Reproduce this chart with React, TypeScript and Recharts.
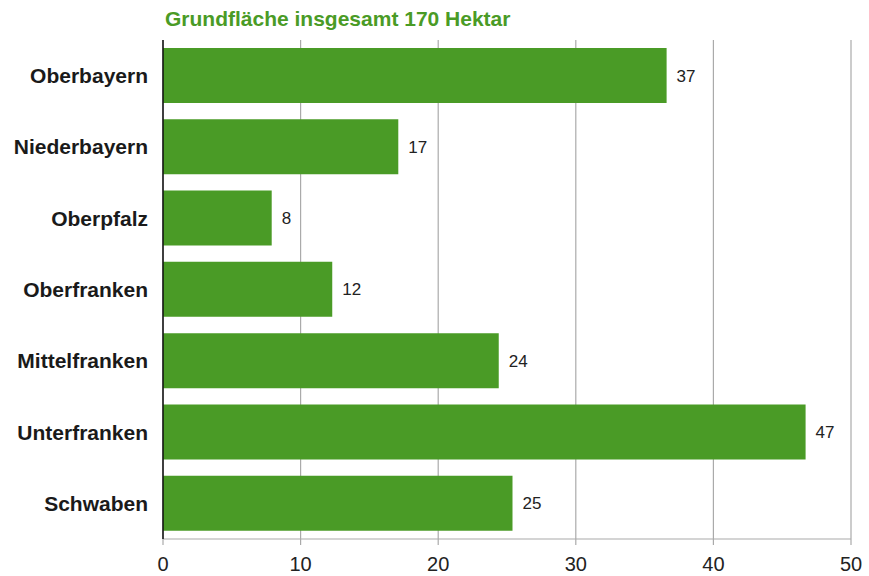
import {
  Bar,
  XAxis,
  YAxis,
  BarChart,
  LabelList,
  CartesianGrid,
} from "recharts";

const regions = [
  "Oberbayern",
  "Niederbayern",
  "Oberpfalz",
  "Oberfranken",
  "Mittelfranken",
  "Unterfranken",
  "Schwaben",
];
const hectares = [36.6, 17.1, 7.9, 12.3, 24.4, 46.7, 25.4];
const xTicks = [0, 10, 20, 30, 40, 50];

const data = regions.map((region, i) => ({ region, value: hectares[i] }));

const FONT = '"Liberation Sans", Arial, Helvetica, sans-serif';
const GREEN = "#4a9b26";

const App = () => {
  return (
    <div style={{ position: "absolute", left: 0, top: 0, width: 869, height: 576 }}>
      <div
        style={{
          position: "absolute",
          left: 165,
          top: 7,
          fontFamily: FONT,
          fontWeight: "bold",
          fontSize: 21,
          color: GREEN,
          whiteSpace: "nowrap",
        }}
      >
        Grundfläche insgesamt 170 Hektar
      </div>
      <BarChart
        layout="vertical"
        width={869}
        height={576}
        data={data}
        margin={{ top: 40, right: 18, left: 0, bottom: 5 }}
        barSize={55}
        style={{ fontFamily: FONT }}
      >
        <CartesianGrid horizontal={false} stroke="#aaaaaa" strokeWidth={1.2} />
        <XAxis
          type="number"
          domain={[0, 50]}
          ticks={xTicks}
          height={32}
          axisLine={{ stroke: "#aaaaaa", strokeWidth: 1.2 }}
          tickLine={{ stroke: "#aaaaaa", strokeWidth: 1.2 }}
          tickSize={6}
          tickMargin={12}
          tick={{ fontSize: 20, fill: "#222222" }}
        />
        <YAxis
          type="category"
          dataKey="region"
          width={163}
          axisLine={{ stroke: "#111111", strokeWidth: 1.5 }}
          tickLine={false}
          tickMargin={9}
          tick={{ fontSize: 21, fontWeight: "bold", fill: "#1a1a1a" }}
        />
        <Bar dataKey="value" fill={GREEN} isAnimationActive={false}>
          <LabelList
            dataKey="value"
            position="right"
            offset={10}
            fontSize={17}
            fill="#222222"
            formatter={(v: number) => Math.round(v)}
          />
        </Bar>
      </BarChart>
    </div>
  );
};

export default App;
